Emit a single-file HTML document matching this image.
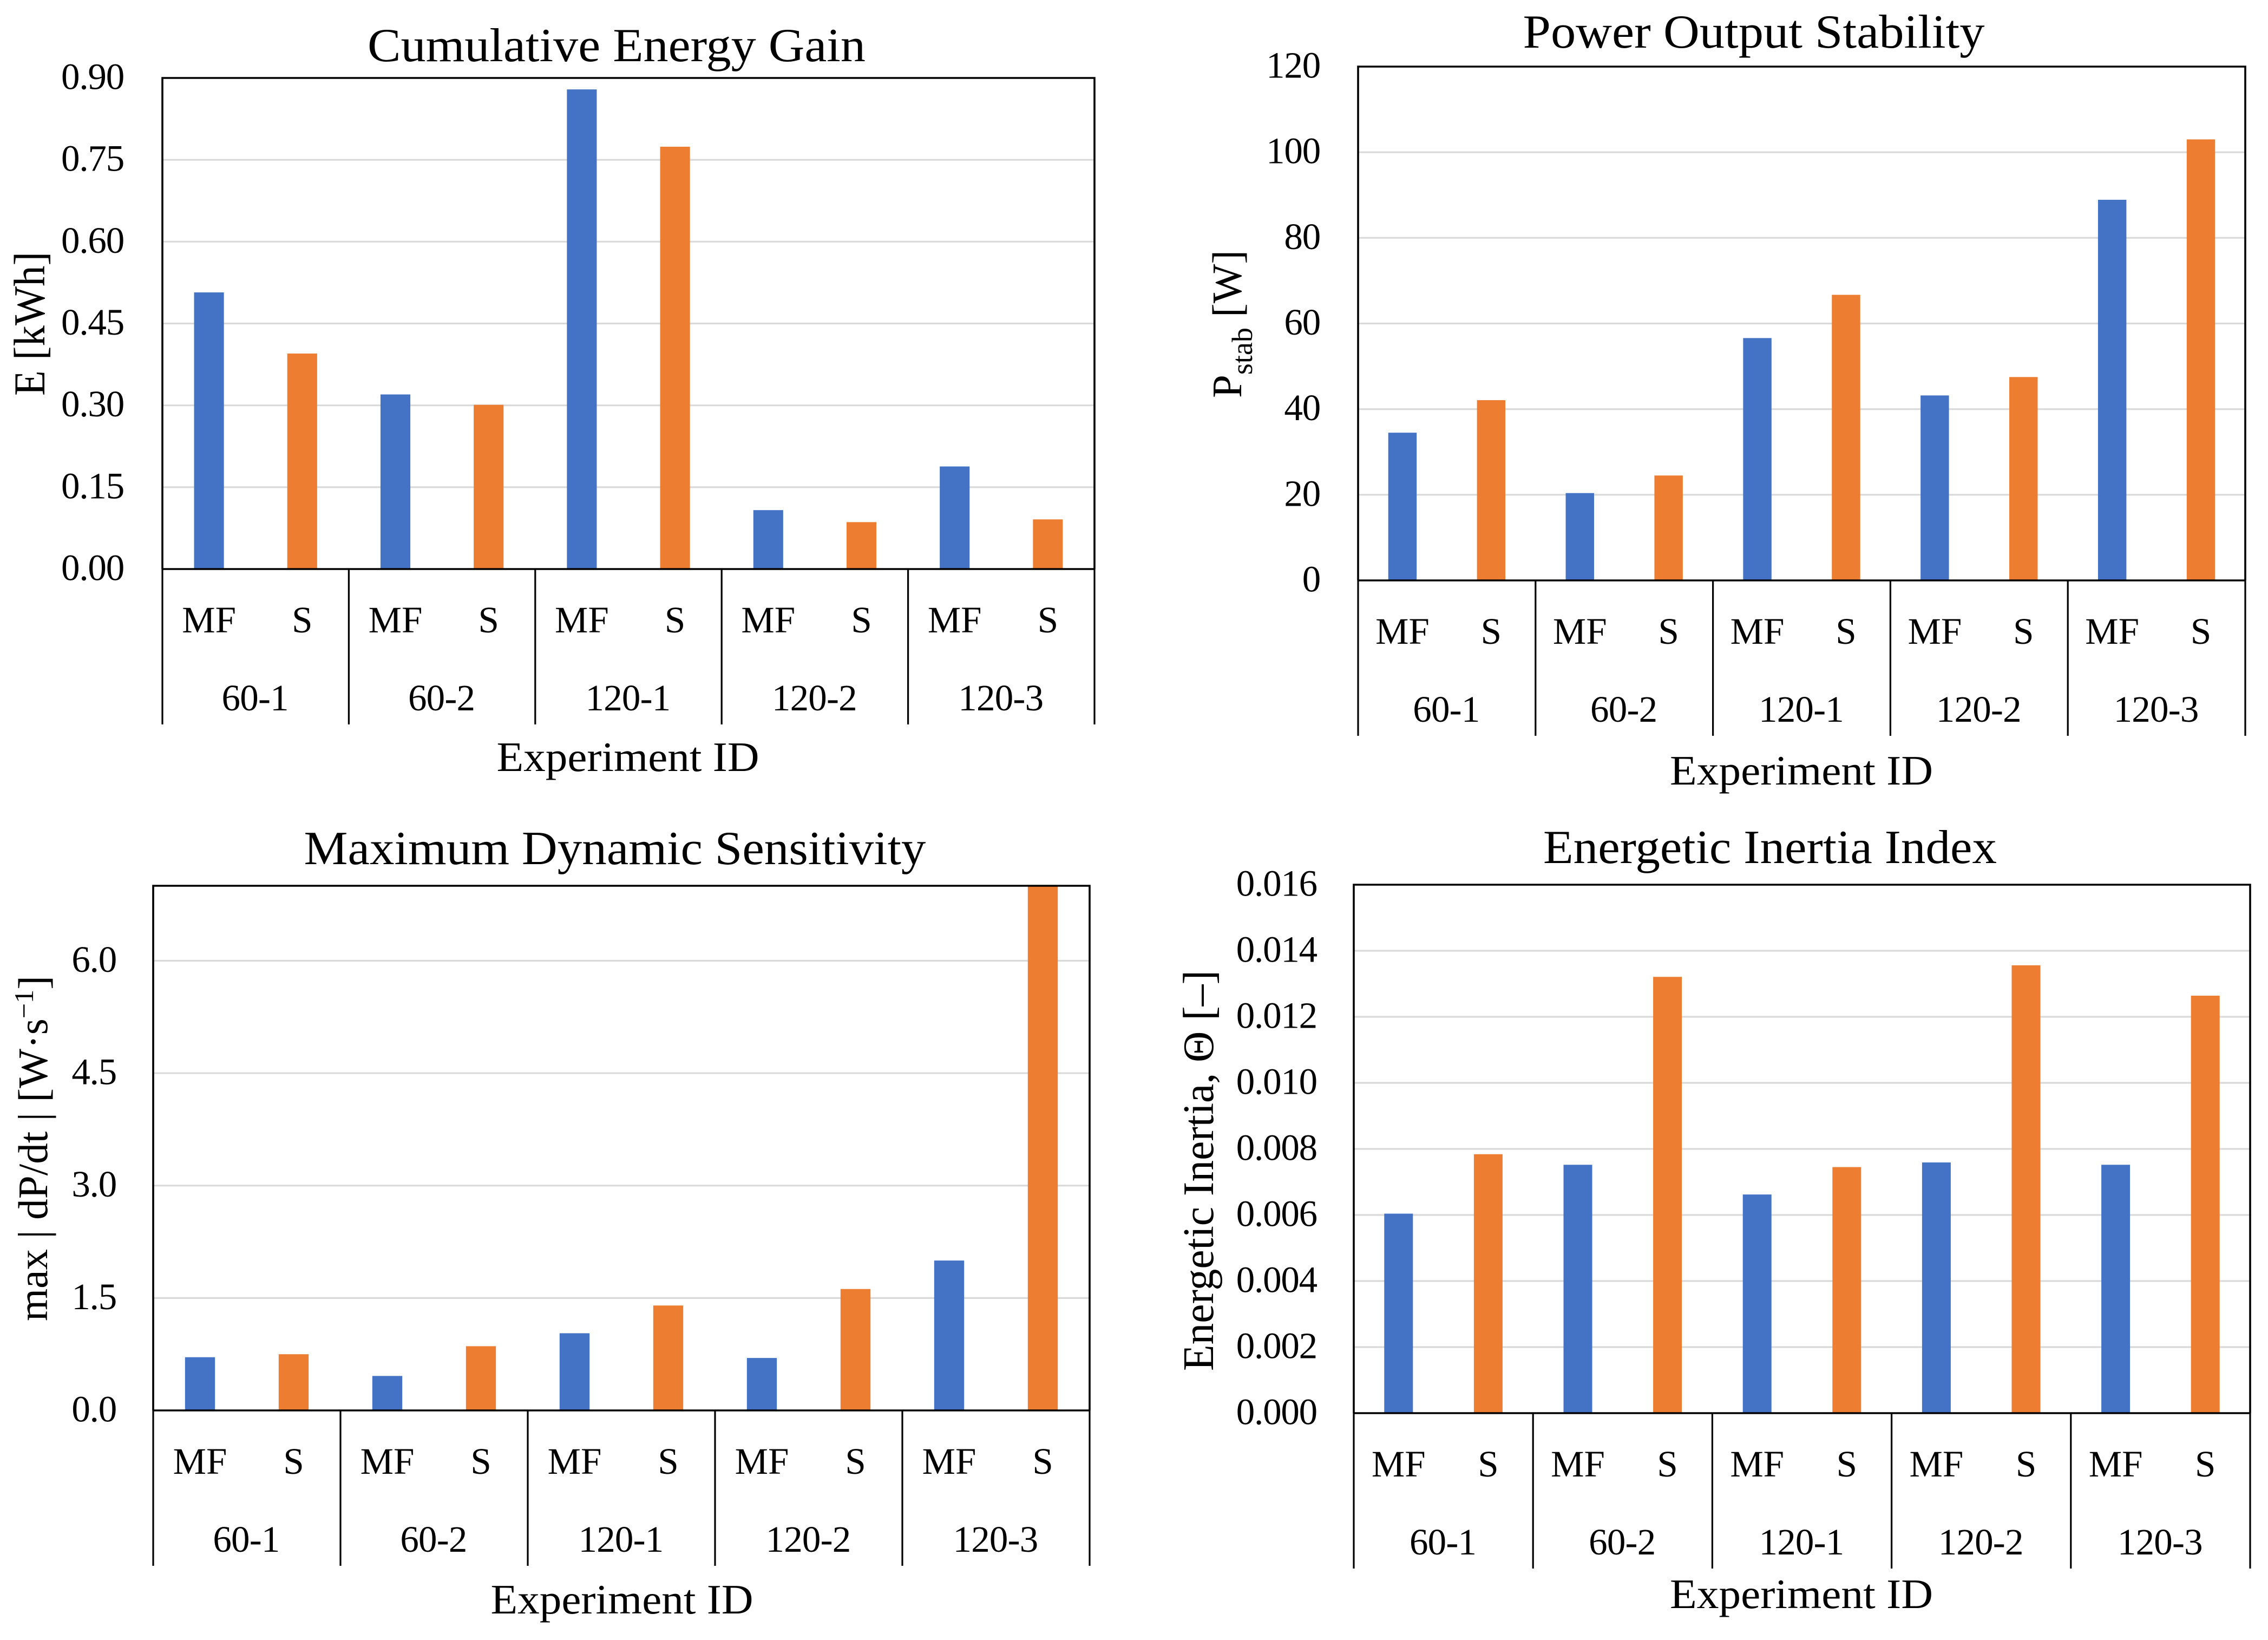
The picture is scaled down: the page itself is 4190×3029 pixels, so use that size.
<!DOCTYPE html>
<html lang="en">
<head>
<meta charset="utf-8">
<title>Experiment comparison charts</title>
<style>
html,body{margin:0;padding:0;background:#fff;width:4190px;height:3029px;overflow:hidden}
svg{display:block}
text{font-family:"Liberation Serif",serif;fill:#000}
</style>
</head>
<body>
<svg id="fig" xmlns="http://www.w3.org/2000/svg" width="4190" height="3029" viewBox="0 0 4190 3029">
  <rect width="4190" height="3029" fill="#fff"/>

  <g id="chart-energy">
    <text x="1139" y="113" font-size="88" text-anchor="middle" textLength="920" lengthAdjust="spacingAndGlyphs">Cumulative Energy Gain</text>
    <text transform="translate(82,731) rotate(-90)" font-size="82" textLength="266" lengthAdjust="spacingAndGlyphs">E [kWh]</text>
    <text x="1160" y="1424" font-size="77" text-anchor="middle" textLength="485" lengthAdjust="spacingAndGlyphs">Experiment ID</text>
  </g>

  <g id="chart-power">
    <text x="3240" y="88" font-size="88" text-anchor="middle" textLength="853" lengthAdjust="spacingAndGlyphs">Power Output Stability</text>
    <text transform="translate(2293,735) rotate(-90)" font-size="77">P<tspan font-size="54" dy="20">stab</tspan><tspan dy="-20"> [W]</tspan></text>
    <text x="3328" y="1449" font-size="77" text-anchor="middle" textLength="486" lengthAdjust="spacingAndGlyphs">Experiment ID</text>
  </g>

  <g id="chart-sensitivity">
    <text x="1136" y="1596" font-size="88" text-anchor="middle" textLength="1149" lengthAdjust="spacingAndGlyphs">Maximum Dynamic Sensitivity</text>
    <text transform="translate(87,2440) rotate(-90)" font-size="77" textLength="638" lengthAdjust="spacingAndGlyphs">max | dP/dt |  [W·s<tspan font-size="50" dy="-26">−1</tspan><tspan dy="26">]</tspan></text>
    <text x="1149" y="2980" font-size="77" text-anchor="middle" textLength="485" lengthAdjust="spacingAndGlyphs">Experiment ID</text>
  </g>

  <g id="chart-inertia">
    <text x="3270" y="1594" font-size="88" text-anchor="middle" textLength="838" lengthAdjust="spacingAndGlyphs">Energetic Inertia Index</text>
    <text transform="translate(2241,2532) rotate(-90)" font-size="81" textLength="740" lengthAdjust="spacingAndGlyphs">Energetic Inertia, Θ [–]</text>
    <text x="3328" y="2970" font-size="77" text-anchor="middle" textLength="486" lengthAdjust="spacingAndGlyphs">Experiment ID</text>
  </g>
</svg>

<script>
var experiments = ['60-1', '60-2', '120-1', '120-2', '120-3'];
var methods = ['MF', 'S'];

var energyMF = [0.507, 0.320, 0.879, 0.108, 0.188];
var energyS = [0.395, 0.301, 0.774, 0.086, 0.091];
var energyTicks = ['0.00', '0.15', '0.30', '0.45', '0.60', '0.75', '0.90'];
var energyMax = 0.9;

var powerMF = [34.5, 20.4, 56.6, 43.2, 88.9];
var powerS = [42.1, 24.5, 66.7, 47.5, 103.0];
var powerTicks = ['0', '20', '40', '60', '80', '100', '120'];
var powerMax = 120;

var sensitivityMF = [0.71, 0.46, 1.03, 0.70, 2.00];
var sensitivityS = [0.75, 0.857, 1.40, 1.62, 7.00];
var sensitivityTicks = ['0.0', '1.5', '3.0', '4.5', '6.0'];
var sensitivityMax = 7;

var inertiaMF = [0.00604, 0.00752, 0.00662, 0.00759, 0.00752];
var inertiaS = [0.00784, 0.01321, 0.00745, 0.01356, 0.01264];
var inertiaTicks = ['0.000', '0.002', '0.004', '0.006', '0.008', '0.010', '0.012', '0.014', '0.016'];
var inertiaMax = 0.016;

var NS = 'http://www.w3.org/2000/svg';

function make(tag, parent, attrs) {
  var el = document.createElementNS(NS, tag);
  for (var k in attrs) el.setAttribute(k, attrs[k]);
  parent.appendChild(el);
  return el;
}

function drawChart(id, box, mf, s, ticks, max) {
  var root = document.getElementById(id);
  var plotW = box.right - box.left;
  var y = function (v) { return box.bottom - (v / max) * (box.bottom - box.top); };
  var groupW = plotW / experiments.length;
  var catW = groupW / methods.length;
  var catX = function (g, m) { return box.left + groupW * g + catW * (m + 0.5); };
  var barW = catW * 0.32;

  ticks.forEach(function (label) {
    var v = parseFloat(label);
    if (v !== 0 && v !== max) {
      var grid = make('line', root, { x1: box.left, x2: box.right, y1: y(v), y2: y(v), stroke: '#D9D9D9', 'stroke-width': 3.2 });
      
      
    }
    var t = make('text', root, { x: box.tickRight, y: y(v) + 20.5, 'font-size': 69, 'text-anchor': 'end', 'letter-spacing': -1.2 });
    t.textContent = label;
    
    
  });

  experiments.forEach(function (name, g) {
    [mf, s].forEach(function (series, m) {
      var val = series[g];
      var bar = make('rect', root, {
        x: catX(g, m) - barW / 2,
        y: y(val),
        width: barW,
        height: box.bottom - y(val),
        fill: m === 0 ? '#4472C4' : '#ED7D31'
      });
      
      

      var lab = make('text', root, { x: catX(g, m), y: box.bottom + 117, 'font-size': 69, 'text-anchor': 'middle' });
      lab.textContent = methods[m];
      
      
    });
    var gl = make('text', root, { x: box.left + groupW * (g + 0.5) - 1, y: box.bottom + 261, 'font-size': 69, 'text-anchor': 'middle', 'letter-spacing': -0.8 });
    gl.textContent = name;
    
    
  });

  var frame = make('path', root, {
    d: 'M' + box.left + ' ' + box.bottom + 'V' + box.top + 'H' + box.right + 'V' + box.bottom,
    fill: 'none', stroke: '#000', 'stroke-width': 3.6
  });
  
  

  var base = make('line', root, { x1: box.left, x2: box.right, y1: box.bottom, y2: box.bottom, stroke: '#000', 'stroke-width': 3.6 });
  
  

  for (var i = 0; i <= experiments.length; i++) {
    var sep = make('line', root, {
      x1: box.left + groupW * i, x2: box.left + groupW * i,
      y1: box.bottom, y2: box.bottom + 287,
      stroke: '#000', 'stroke-width': 3.2
    });
    
    
  }
}

drawChart('chart-energy', { left: 300, right: 2022, top: 144, bottom: 1051, tickRight: 229 }, energyMF, energyS, energyTicks, energyMax);
drawChart('chart-power', { left: 2509, right: 4148, top: 123, bottom: 1072, tickRight: 2439 }, powerMF, powerS, powerTicks, powerMax);
drawChart('chart-sensitivity', { left: 283, right: 2013, top: 1636, bottom: 2605, tickRight: 215 }, sensitivityMF, sensitivityS, sensitivityTicks, sensitivityMax);
drawChart('chart-inertia', { left: 2501, right: 4157, top: 1634, bottom: 2610, tickRight: 2433 }, inertiaMF, inertiaS, inertiaTicks, inertiaMax);
</script>
</body>
</html>
